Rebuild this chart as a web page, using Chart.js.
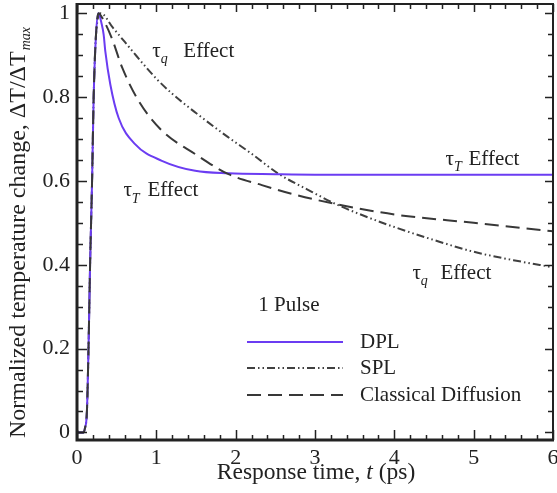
<!DOCTYPE html>
<html>
<head>
<meta charset="utf-8">
<script src="https://cdn.jsdelivr.net/npm/chart.js@4/dist/chart.umd.min.js"></script>
<style>
  body { margin: 0; background: #fff; }
</style>
</head>
<body>
<canvas id="tempChart" width="557" height="493"></canvas>
<script>
// Values
var dplTime = [0, 0.08, 0.1, 0.125, 0.145, 0.165, 0.19, 0.21, 0.24, 0.27, 0.31, 0.336, 0.357, 0.42, 0.525, 0.735, 1.07, 1.49, 1.91, 2.5, 3, 4, 5, 6];
var dplTemp = [0, 0, 0.01, 0.05, 0.2, 0.4, 0.6, 0.8, 0.95, 1, 0.975, 0.949, 0.909, 0.83, 0.75, 0.687, 0.648, 0.624, 0.618, 0.616, 0.615, 0.615, 0.615, 0.615];

var splTime = [0, 0.08, 0.1, 0.125, 0.145, 0.165, 0.19, 0.21, 0.24, 0.3, 0.45, 0.6, 0.75, 0.88, 1.01, 1.2, 1.5, 1.9, 2.2, 2.54, 2.9, 3.26, 3.6, 4, 4.5, 5, 5.5, 6];
var splTemp = [0, 0, 0.01, 0.05, 0.2, 0.4, 0.6, 0.8, 0.95, 1, 0.966, 0.932, 0.898, 0.869, 0.842, 0.808, 0.762, 0.705, 0.665, 0.617, 0.58, 0.545, 0.518, 0.49, 0.459, 0.431, 0.411, 0.394];

var cdTime = [0, 0.08, 0.1, 0.125, 0.145, 0.165, 0.19, 0.21, 0.24, 0.27, 0.33, 0.44, 0.57, 0.78, 1.07, 1.49, 1.91, 2.33, 2.75, 3.26, 4, 5, 6];
var cdTemp = [0, 0, 0.01, 0.05, 0.2, 0.4, 0.6, 0.8, 0.95, 1, 0.985, 0.94, 0.87, 0.79, 0.72, 0.664, 0.616, 0.59, 0.567, 0.545, 0.52, 0.5, 0.48];

var seriesNames = ['DPL', 'SPL', 'Classical Diffusion'];
var xTicks = [0, 1, 2, 3, 4, 5, 6];
var yTicks = [0, 0.2, 0.4, 0.6, 0.8, 1];
var xMinorStep = 0.2;
var yMinorStep = 0.05;

var FONT = "'Liberation Serif', 'Times New Roman', serif";
var INK = '#222';

function toPoints(xs, ys) {
  return xs.map(function (x, i) { return { x: x, y: ys[i] }; });
}

// Text annotations placed in data coordinates
var notes = [
  { x: 0.95, y: 0.909, sub: 'q', gap: 31 },
  { x: 0.585, y: 0.576, sub: 'T', gap: 24 },
  { x: 4.645, y: 0.652, sub: 'T', gap: 23 },
  { x: 4.228, y: 0.379, sub: 'q', gap: 28 }
];

function noPadding(s) {
  s.paddingTop = 0; s.paddingBottom = 0; s.paddingLeft = 0; s.paddingRight = 0;
}

var framePlugin = {
  id: 'frame',
  afterDraw: function (chart) {
    var ctx = chart.ctx;
    var a = chart.chartArea;
    var xs = chart.scales.x, ys = chart.scales.y;
    ctx.save();

    // ticks on all four sides, pointing inward
    ctx.strokeStyle = INK;
    ctx.lineWidth = 1.5;
    ctx.beginPath();
    for (var v = 0; v <= 6.0001; v += xMinorStep) {
      var px = Math.round(xs.getPixelForValue(v)) + 0.5;
      var major = Math.abs(v - Math.round(v)) < 1e-6;
      var len = major ? 10 : 5;
      ctx.moveTo(px, a.bottom); ctx.lineTo(px, a.bottom - len);
      ctx.moveTo(px, a.top); ctx.lineTo(px, a.top + (major ? 8 : 5));
    }
    for (var w = 0; w <= 1.0001; w += yMinorStep) {
      var py = Math.round(ys.getPixelForValue(w)) + 0.5;
      var majorY = Math.abs(w * 5 - Math.round(w * 5)) < 1e-6;
      ctx.moveTo(a.left, py); ctx.lineTo(a.left + (majorY ? 10 : 6), py);
      ctx.moveTo(a.right, py); ctx.lineTo(a.right - (majorY ? 8 : 5), py);
    }
    ctx.stroke();

    // frame
    ctx.lineWidth = 2;
    ctx.strokeRect(a.left, a.top, a.right - a.left, a.bottom - a.top);
    ctx.lineWidth = 3;
    ctx.beginPath();
    ctx.moveTo(a.left, a.top - 1);
    ctx.lineTo(a.left, a.bottom);
    ctx.lineTo(a.right + 1, a.bottom);
    ctx.stroke();

    // annotations
    ctx.fillStyle = INK;
    ctx.textBaseline = 'middle';
    ctx.textAlign = 'left';
    notes.forEach(function (n) {
      var nx = xs.getPixelForValue(n.x), ny = ys.getPixelForValue(n.y);
      ctx.font = '21px ' + FONT;
      ctx.fillText('\u03C4', nx, ny);
      var tw = ctx.measureText('\u03C4').width;
      ctx.font = 'italic 14px ' + FONT;
      ctx.fillText(n.sub, nx + tw, ny + 8);
      ctx.font = '21px ' + FONT;
      ctx.fillText('Effect', nx + n.gap, ny);
    });
    ctx.font = '21px ' + FONT;
    ctx.fillText('1 Pulse', xs.getPixelForValue(2.286), ys.getPixelForValue(0.303));

    // legend
    var legY = [342, 368, 395];
    chart.data.datasets.forEach(function (ds, i) {
      ctx.save();
      ctx.strokeStyle = ds.borderColor;
      ctx.lineWidth = ds.borderWidth;
      ctx.setLineDash(ds.borderDash || []);
      ctx.beginPath();
      ctx.moveTo(247, legY[i]);
      ctx.lineTo(343, legY[i]);
      ctx.stroke();
      ctx.restore();
      ctx.font = '21px ' + FONT;
      ctx.fillText(ds.label, 360, legY[i]);
    });

    // x axis title
    ctx.textBaseline = 'alphabetic';
    var p1 = 'Response time, ', p2 = 't', p3 = ' (ps)';
    ctx.font = '23.5px ' + FONT;
    var w1 = ctx.measureText(p1).width, w3 = ctx.measureText(p3).width;
    ctx.font = 'italic 23.5px ' + FONT;
    var w2 = ctx.measureText(p2).width;
    var sx = 316 - (w1 + w2 + w3) / 2;
    ctx.font = '23.5px ' + FONT;
    ctx.fillText(p1, sx, 479);
    ctx.font = 'italic 23.5px ' + FONT;
    ctx.fillText(p2, sx + w1, 479);
    ctx.font = '23.5px ' + FONT;
    ctx.fillText(p3, sx + w1 + w2, 479);

    // y axis title
    ctx.translate(25, 233);
    ctx.rotate(-Math.PI / 2);
    var q1 = 'Normalized temperature change, \u0394T/\u0394T', q2 = 'max';
    ctx.font = '24px ' + FONT;
    var v1 = ctx.measureText(q1).width;
    ctx.font = 'italic 14px ' + FONT;
    var v2 = ctx.measureText(q2).width;
    var sy = -(v1 + v2) / 2;
    ctx.font = '24px ' + FONT;
    ctx.fillText(q1, sy, 0);
    ctx.font = 'italic 14px ' + FONT;
    ctx.fillText(q2, sy + v1 + 1, 5);
    ctx.restore();
  }
};

new Chart(document.getElementById('tempChart'), {
  type: 'scatter',
  data: {
    datasets: [
      {
        label: seriesNames[0],
        data: toPoints(dplTime, dplTemp),
        borderColor: '#6b3cf2',
        borderWidth: 2,
        order: 2
      },
      {
        label: seriesNames[1],
        data: toPoints(splTime, splTemp),
        borderColor: '#404040',
        borderWidth: 2,
        borderDash: [8, 3, 1.5, 3, 1.5, 3],
        order: 3
      },
      {
        label: seriesNames[2],
        data: toPoints(cdTime, cdTemp),
        borderColor: '#383838',
        borderWidth: 2,
        borderDash: [14, 7],
        order: 1
      }
    ]
  },
  options: {
    responsive: false,
    animation: false,
    showLine: true,
    elements: {
      point: { radius: 0, hoverRadius: 0 },
      line: { cubicInterpolationMode: 'monotone', fill: false }
    },
    layout: { padding: { left: 0, right: 4, top: 4, bottom: 0 } },
    plugins: { legend: { display: false }, tooltip: { enabled: false } },
    scales: {
      x: {
        type: 'linear',
        min: 0, max: 6,
        grid: { display: false, drawTicks: false },
        border: { display: false },
        afterBuildTicks: function (s) { s.ticks = xTicks.map(function (v) { return { value: v }; }); },
        afterFit: function (s) { s.height = 53; noPadding(s); },
        ticks: {
          padding: 5,
          color: INK,
          font: { family: FONT, size: 22 },
          callback: function (v) { return String(v); }
        }
      },
      y: {
        type: 'linear',
        min: -0.018, max: 1.022,
        grid: { display: false, drawTicks: false },
        border: { display: false },
        afterBuildTicks: function (s) { s.ticks = yTicks.map(function (v) { return { value: v }; }); },
        afterFit: function (s) { s.width = 77; noPadding(s); },
        ticks: {
          padding: 7,
          color: INK,
          font: { family: FONT, size: 22 },
          callback: function (v) { return String(Math.round(v * 10) / 10); }
        }
      }
    }
  },
  plugins: [framePlugin]
});
</script>
</body>
</html>
